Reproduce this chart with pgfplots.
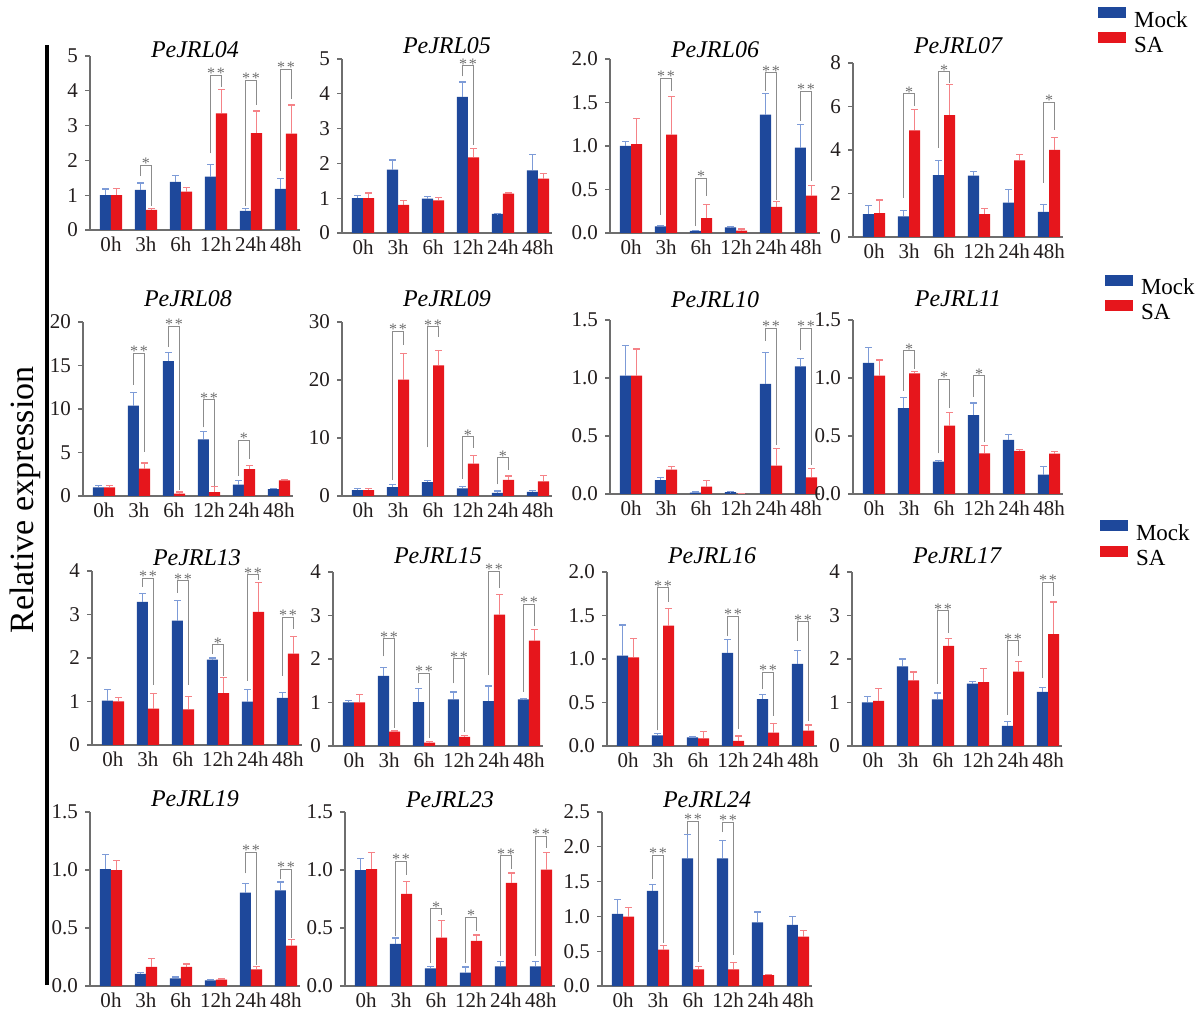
\documentclass[border=0pt]{standalone}
\usepackage{fontspec}
\setmainfont{Liberation Serif}
\usepackage{pgfplots}
\pgfplotsset{compat=1.18}
\definecolor{mockblue}{RGB}{30,72,155}
\definecolor{sared}{RGB}{230,22,28}
\definecolor{mockerr}{RGB}{125,155,215}
\definecolor{saerr}{RGB}{245,130,135}
\definecolor{siggray}{RGB}{140,140,140}
\definecolor{stargray}{RGB}{110,110,110}
\definecolor{axisgray}{RGB}{110,110,110}
\definecolor{labelblack}{RGB}{35,30,30}
\newcommand{\sig}[5]{%
  \draw[siggray, line width=0.5pt] ([xshift=-2.8pt]axis cs:#1,#3) -- ([xshift=-2.8pt]axis cs:#1,#2) -- ([xshift=2.8pt]axis cs:#1,#2) -- ([xshift=2.8pt]axis cs:#1,#4);
  \node[font=\fontsize{8}{8}\selectfont, text=stargray, anchor=base, yshift=-1.8pt, inner sep=0pt] at (axis cs:#1,#2) {#5};
}
\newcommand{\dstar}{*\hspace{0.8pt}*}
\pgfplotsset{
  jrl/.style={
    anchor=south west, width=105pt, height=87pt, scale only axis,
    xmin=-0.6, xmax=5.4, ymin=0,
    axis x line*=bottom, axis y line*=left,
    axis line style={draw=axisgray, line width=0.6pt, -},
    xtick={0,1,2,3,4,5}, xticklabels={0h,3h,6h,12h,24h,48h},
    xtick style={draw=none},
    ytick style={draw=axisgray, line width=0.6pt},
    tick align=outside, major tick length=2.5pt,
    tick label style={font=\fontsize{10.5}{12}\selectfont, text=labelblack},
    xticklabel style={inner sep=1pt, yshift=0.3pt},
    /pgf/number format/assume math mode=true,
    title style={font=\itshape\fontsize{12}{14}\selectfont, anchor=base, at={(0.5,1)}, yshift=-6.5pt, inner sep=1pt},
    clip=false,
  },
  dec/.style={yticklabel style={/pgf/number format/.cd, fixed, fixed zerofill, precision=1}},
  leg/.style={legend style={anchor=north west, draw=none, fill=none, inner sep=0pt, outer sep=0pt,
      font=\fontsize{11.5}{13}\selectfont, row sep=0.6pt, nodes={inner ysep=0.5pt, inner xsep=4pt}},
      legend cell align=left},
  mock/.style={ybar, bar width=0.32, bar shift=0, x filter/.expression={x-0.16}, fill=mockblue, draw=none,
    legend image code/.code={\fill[mockblue] (0pt,1.35pt) rectangle (14pt,6.85pt);},
    error bars/.cd, y dir=plus, y explicit, error bar style={draw=mockerr, line width=0.6pt},
    error mark options={rotate=90, draw=mockerr, line width=0.6pt, mark size=1.6pt}},
  sa/.style={ybar, bar width=0.32, bar shift=0, x filter/.expression={x+0.16}, fill=sared, draw=none,
    legend image code/.code={\fill[sared] (0pt,1.35pt) rectangle (14pt,6.85pt);},
    error bars/.cd, y dir=plus, y explicit, error bar style={draw=saerr, line width=0.6pt},
    error mark options={rotate=90, draw=saerr, line width=0.6pt, mark size=1.6pt}},
}
\begin{document}
\begin{tikzpicture}
\useasboundingbox (0,0) rectangle (601.5pt,505.5pt);
\draw[black, line width=2pt] (23.5pt,13pt) -- (23.5pt,483pt);
\node[rotate=90, font=\fontsize{17}{20}\selectfont] at (12.5pt,255.5pt) {Relative expression};

% ---------------- Row 1
\begin{axis}[jrl, at={(45pt,390.5pt)}, ymax=5, ytick={0,1,2,3,4,5}, title={PeJRL04}, title style={yshift=-0.5pt}]
\addplot[mock] coordinates {(0,1.0)+-(0,0.18) (1,1.15)+-(0,0.2) (2,1.38)+-(0,0.18) (3,1.53)+-(0,0.35) (4,0.55)+-(0,0.07) (5,1.18)+-(0,0.29)};
\addplot[sa] coordinates {(0,1.0)+-(0,0.2) (1,0.58)+-(0,0.03) (2,1.1)+-(0,0.12) (3,3.35)+-(0,0.69) (4,2.78)+-(0,0.64) (5,2.77)+-(0,0.82)};
\sig{1}{1.86}{1.55}{0.7}{*}
\sig{3}{4.45}{2.2}{4.12}{\dstar}
\sig{4}{4.31}{0.7}{3.6}{\dstar}
\sig{5}{4.62}{1.7}{3.75}{\dstar}
\end{axis}

\begin{axis}[jrl, at={(171pt,389pt)}, ymax=5, ytick={0,1,2,3,4,5}, title={PeJRL05}, title style={yshift=3pt}]
\addplot[mock] coordinates {(0,1.0)+-(0,0.07) (1,1.82)+-(0,0.28) (2,0.99)+-(0,0.06) (3,3.91)+-(0,0.43) (4,0.55)+-(0,0.01) (5,1.8)+-(0,0.45)};
\addplot[sa] coordinates {(0,1.0)+-(0,0.15) (1,0.81)+-(0,0.12) (2,0.94)+-(0,0.09) (3,2.17)+-(0,0.25) (4,1.13)+-(0,0.02) (5,1.56)+-(0,0.14)};
\sig{3}{4.8}{4.5}{2.54}{\dstar}
\end{axis}

\begin{axis}[jrl, dec, at={(305pt,389pt)}, ymax=2, ytick={0,0.5,1,1.5,2}, title={PeJRL06}, title style={yshift=1pt}]
\addplot[mock] coordinates {(0,1.0)+-(0,0.05) (1,0.077)+-(0,0.013) (2,0.023)+-(0,0.01) (3,0.065)+-(0,0.005) (4,1.36)+-(0,0.24) (5,0.98)+-(0,0.27)};
\addplot[sa] coordinates {(0,1.02)+-(0,0.3) (1,1.13)+-(0,0.44) (2,0.17)+-(0,0.16) (3,0.027)+-(0,0.02) (4,0.3)+-(0,0.06) (5,0.43)+-(0,0.12)};
\sig{1}{1.78}{0.21}{1.63}{\dstar}
\sig{2}{0.63}{0.08}{0.42}{*}
\sig{4}{1.84}{1.63}{0.38}{\dstar}
\sig{5}{1.63}{1.29}{0.6}{\dstar}
\end{axis}

\begin{axis}[jrl, leg, at={(426.5pt,387pt)}, ymax=8, ytick={0,2,4,6,8}, title={PeJRL07}, title style={yshift=5pt},
  legend style={at={(1.167,1.322)}}]
\addplot[mock] coordinates {(0,1.05)+-(0,0.38) (1,0.95)+-(0,0.28) (2,2.85)+-(0,0.65) (3,2.82)+-(0,0.18) (4,1.58)+-(0,0.62) (5,1.15)+-(0,0.33)};
\addlegendentry{Mock}
\addplot[sa] coordinates {(0,1.1)+-(0,0.6) (1,4.9)+-(0,0.95) (2,5.6)+-(0,1.4) (3,1.05)+-(0,0.25) (4,3.52)+-(0,0.26) (5,4.0)+-(0,0.58)};
\addlegendentry{SA}
\sig{1}{6.6}{1.8}{6.0}{*}
\sig{2}{7.6}{4.1}{7.1}{*}
\sig{5}{6.2}{2.5}{4.9}{*}
\end{axis}

% ---------------- Row 2
\begin{axis}[jrl, at={(41.5pt,257.5pt)}, ymax=20, ytick={0,5,10,15,20}, title={PeJRL08}, title style={yshift=8pt}]
\addplot[mock] coordinates {(0,1.0)+-(0,0.2) (1,10.4)+-(0,1.5) (2,15.5)+-(0,1.0) (3,6.5)+-(0,0.9) (4,1.3)+-(0,0.5) (5,0.8)+-(0,0.08)};
\addplot[sa] coordinates {(0,1.0)+-(0,0.25) (1,3.15)+-(0,0.65) (2,0.27)+-(0,0.18) (3,0.45)+-(0,0.65) (4,3.1)+-(0,0.4) (5,1.8)+-(0,0.1)};
\sig{1}{16.4}{12.8}{5.05}{\dstar}
\sig{2}{19.5}{17.1}{0.65}{\dstar}
\sig{3}{11.1}{7.9}{1.2}{\dstar}
\sig{4}{6.4}{2.3}{4.3}{*}
\end{axis}

\begin{axis}[jrl, at={(171pt,257.5pt)}, ymax=30, ytick={0,10,20,30}, title={PeJRL09}, title style={yshift=8pt}]
\addplot[mock] coordinates {(0,1.0)+-(0,0.3) (1,1.55)+-(0,0.4) (2,2.4)+-(0,0.3) (3,1.3)+-(0,0.4) (4,0.55)+-(0,0.3) (5,0.7)+-(0,0.3)};
\addplot[sa] coordinates {(0,1.0)+-(0,0.25) (1,20.05)+-(0,4.45) (2,22.5)+-(0,2.6) (3,5.6)+-(0,1.4) (4,2.8)+-(0,0.65) (5,2.5)+-(0,1.05)};
\sig{1}{28.4}{2.7}{26}{\dstar}
\sig{2}{29.2}{8.4}{27.4}{\dstar}
\sig{3}{10.2}{3.0}{8.2}{*}
\sig{4}{6.6}{2.0}{4.4}{*}
\end{axis}

\begin{axis}[jrl, dec, at={(305pt,258.5pt)}, ymax=1.5, ytick={0,0.5,1,1.5}, title={PeJRL10}, title style={yshift=6.5pt}]
\addplot[mock] coordinates {(0,1.02)+-(0,0.26) (1,0.12)+-(0,0.02) (2,0.012)+-(0,0.005) (3,0.017)+-(0,0.003) (4,0.95)+-(0,0.27) (5,1.1)+-(0,0.07)};
\addplot[sa] coordinates {(0,1.02)+-(0,0.23) (1,0.21)+-(0,0.025) (2,0.063)+-(0,0.055) (3,0.002)+-(0,0.0) (4,0.245)+-(0,0.145) (5,0.143)+-(0,0.077)};
\sig{4}{1.43}{1.32}{0.42}{\dstar}
\sig{5}{1.43}{1.24}{0.25}{\dstar}
\end{axis}

\begin{axis}[jrl, dec, leg, at={(426.5pt,258.5pt)}, ymax=1.5, ytick={0,0.5,1,1.5}, title={PeJRL11}, title style={yshift=7pt},
  legend style={at={(1.2,1.26)}}]
\addplot[mock] coordinates {(0,1.13)+-(0,0.13) (1,0.74)+-(0,0.09) (2,0.28)+-(0,0.01) (3,0.68)+-(0,0.105) (4,0.467)+-(0,0.048) (5,0.166)+-(0,0.072)};
\addlegendentry{Mock}
\addplot[sa] coordinates {(0,1.02)+-(0,0.135) (1,1.04)+-(0,0.015) (2,0.59)+-(0,0.11) (3,0.35)+-(0,0.07) (4,0.372)+-(0,0.015) (5,0.347)+-(0,0.02)};
\addlegendentry{SA}
\sig{1}{1.235}{0.89}{1.08}{*}
\sig{2}{0.99}{0.35}{0.74}{*}
\sig{3}{1.02}{0.84}{0.45}{*}
\end{axis}

% ---------------- Row 3
\begin{axis}[jrl, at={(46pt,133pt)}, ymax=4, ytick={0,1,2,3,4}, title={PeJRL13}, title style={yshift=3pt}]
\addplot[mock] coordinates {(0,1.02)+-(0,0.26) (1,3.29)+-(0,0.19) (2,2.86)+-(0,0.46) (3,1.96)+-(0,0.04) (4,0.995)+-(0,0.275) (5,1.085)+-(0,0.115)};
\addplot[sa] coordinates {(0,1.0)+-(0,0.1) (1,0.835)+-(0,0.345) (2,0.82)+-(0,0.29) (3,1.19)+-(0,0.36) (4,3.06)+-(0,0.67) (5,2.1)+-(0,0.4)};
\sig{1}{3.83}{3.64}{1.39}{\dstar}
\sig{2}{3.78}{3.5}{1.37}{\dstar}
\sig{3}{2.31}{2.09}{1.59}{*}
\sig{4}{3.91}{1.48}{3.8}{\dstar}
\sig{5}{2.94}{1.59}{2.66}{\dstar}
\end{axis}

\begin{axis}[jrl, at={(166.5pt,132.5pt)}, ymax=4, ytick={0,1,2,3,4}, title={PeJRL15}, title style={yshift=4.5pt}]
\addplot[mock] coordinates {(0,1.0)+-(0,0.04) (1,1.61)+-(0,0.19) (2,1.01)+-(0,0.32) (3,1.07)+-(0,0.17) (4,1.03)+-(0,0.35) (5,1.07)+-(0,0.02)};
\addplot[sa] coordinates {(0,1.0)+-(0,0.19) (1,0.33)+-(0,0.015) (2,0.077)+-(0,0.023) (3,0.207)+-(0,0.04) (4,3.02)+-(0,0.47) (5,2.42)+-(0,0.25)};
\sig{1}{2.46}{2.06}{0.41}{\dstar}
\sig{2}{1.67}{1.44}{0.18}{\dstar}
\sig{3}{2.0}{1.44}{0.33}{\dstar}
\sig{4}{4.02}{1.63}{3.63}{\dstar}
\sig{5}{3.26}{1.25}{2.75}{\dstar}
\end{axis}

\begin{axis}[jrl, dec, at={(303.5pt,132.5pt)}, ymax=2, ytick={0,0.5,1,1.5,2}, title={PeJRL16}, title style={yshift=4.5pt}]
\addplot[mock] coordinates {(0,1.04)+-(0,0.35) (1,0.123)+-(0,0.017) (2,0.1)+-(0,0.004) (3,1.07)+-(0,0.15) (4,0.54)+-(0,0.055) (5,0.945)+-(0,0.155)};
\addplot[sa] coordinates {(0,1.02)+-(0,0.22) (1,1.385)+-(0,0.2) (2,0.088)+-(0,0.077) (3,0.06)+-(0,0.055) (4,0.154)+-(0,0.106) (5,0.177)+-(0,0.065)};
\sig{1}{1.82}{0.18}{1.66}{\dstar}
\sig{3}{1.49}{1.26}{0.2}{\dstar}
\sig{4}{0.85}{0.65}{0.34}{\dstar}
\sig{5}{1.43}{1.21}{0.29}{\dstar}
\end{axis}

\begin{axis}[jrl, leg, at={(426pt,132.5pt)}, ymax=4, ytick={0,1,2,3,4}, title={PeJRL17}, title style={yshift=4.5pt},
  legend style={at={(1.181,1.297)}}]
\addplot[mock] coordinates {(0,1.0)+-(0,0.14) (1,1.83)+-(0,0.17) (2,1.07)+-(0,0.15) (3,1.435)+-(0,0.045) (4,0.46)+-(0,0.1) (5,1.245)+-(0,0.105)};
\addlegendentry{Mock}
\addplot[sa] coordinates {(0,1.04)+-(0,0.29) (1,1.51)+-(0,0.19) (2,2.3)+-(0,0.18) (3,1.47)+-(0,0.32) (4,1.71)+-(0,0.23) (5,2.57)+-(0,0.74)};
\addlegendentry{SA}
\sig{2}{3.11}{1.43}{2.6}{\dstar}
\sig{4}{2.42}{0.71}{2.06}{\dstar}
\sig{5}{3.77}{1.56}{3.44}{\dstar}
\end{axis}

% ---------------- Row 4
\begin{axis}[jrl, dec, at={(45pt,12.5pt)}, ymax=1.5, ytick={0,0.5,1,1.5}, title={PeJRL19}, title style={yshift=3pt}]
\addplot[mock] coordinates {(0,1.007)+-(0,0.13) (1,0.104)+-(0,0.011) (2,0.066)+-(0,0.012) (3,0.049)+-(0,0.009) (4,0.805)+-(0,0.08) (5,0.825)+-(0,0.072)};
\addplot[sa] coordinates {(0,0.998)+-(0,0.082) (1,0.164)+-(0,0.072) (2,0.164)+-(0,0.026) (3,0.055)+-(0,0.005) (4,0.144)+-(0,0.026) (5,0.349)+-(0,0.051)};
\sig{4}{1.154}{0.97}{0.18}{\dstar}
\sig{5}{1.007}{0.92}{0.415}{\dstar}
\end{axis}

\begin{axis}[jrl, dec, at={(172.5pt,12.5pt)}, ymax=1.5, ytick={0,0.5,1,1.5}, title={PeJRL23}, title style={yshift=2.5pt}]
\addplot[mock] coordinates {(0,0.998)+-(0,0.102) (1,0.364)+-(0,0.049) (2,0.152)+-(0,0.017) (3,0.115)+-(0,0.048) (4,0.169)+-(0,0.043) (5,0.169)+-(0,0.043)};
\addplot[sa] coordinates {(0,1.007)+-(0,0.146) (1,0.794)+-(0,0.109) (2,0.416)+-(0,0.146) (3,0.39)+-(0,0.049) (4,0.889)+-(0,0.086) (5,1.004)+-(0,0.149)};
\sig{1}{1.075}{0.43}{0.96}{\dstar}
\sig{2}{0.668}{0.2}{0.61}{*}
\sig{3}{0.594}{0.2}{0.473}{*}
\sig{4}{1.124}{0.258}{1.01}{\dstar}
\sig{5}{1.29}{0.258}{1.19}{\dstar}
\end{axis}

\begin{axis}[jrl, dec, at={(301pt,12.5pt)}, ymax=2.5, ytick={0,0.5,1,1.5,2,2.5}, title={PeJRL24}, title style={yshift=2.5pt}]
\addplot[mock] coordinates {(0,1.035)+-(0,0.21) (1,1.365)+-(0,0.091) (2,1.834)+-(0,0.346) (3,1.834)+-(0,0.256) (4,0.915)+-(0,0.148) (5,0.88)+-(0,0.12)};
\addplot[sa] coordinates {(0,0.996)+-(0,0.134) (1,0.522)+-(0,0.062) (2,0.24)+-(0,0.043) (3,0.24)+-(0,0.1) (4,0.158)+-(0,0.01) (5,0.709)+-(0,0.091)};
\sig{1}{1.88}{1.54}{0.62}{\dstar}
\sig{2}{2.366}{2.19}{0.345}{\dstar}
\sig{3}{2.356}{2.21}{0.45}{\dstar}
\end{axis}
\end{tikzpicture}
\end{document}
